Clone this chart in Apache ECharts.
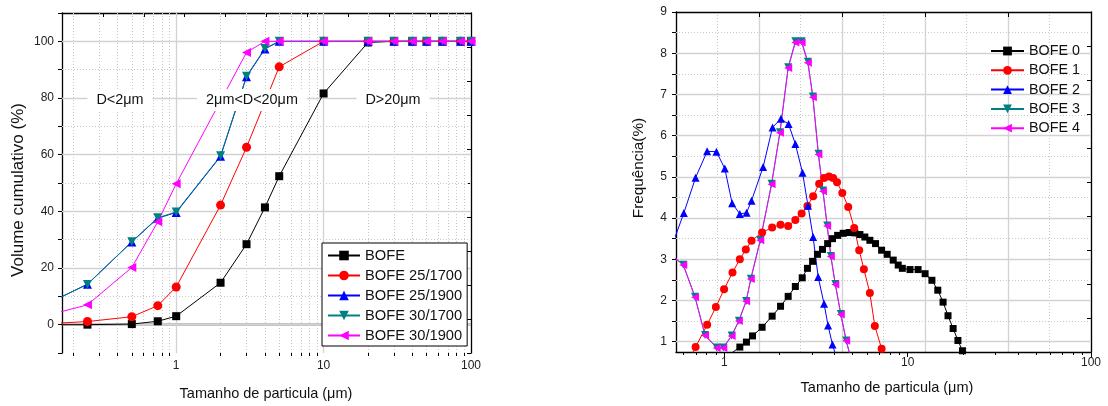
<!DOCTYPE html>
<html><head><meta charset="utf-8">
<script src="https://cdn.jsdelivr.net/npm/echarts@6/dist/echarts.min.js"></script>
<style>html,body{margin:0;padding:0;background:#fff}#c{width:1108px;height:406px}</style>
</head><body><div id="c"></div>
<script>
// ---------- LEFT CHART: cumulative volume ----------
const leftNames = ['BOFE', 'BOFE 25/1700', 'BOFE 25/1900', 'BOFE 30/1700', 'BOFE 30/1900'];
const leftSizes = [0.1, 0.25, 0.5, 0.75, 1, 2, 3, 4, 5, 10, 20, 30, 40, 50, 64, 85, 100];
const cumBOFE      = [0, 0, 0.2, 1.2, 3.0, 14.8, 28.4, 41.4, 52.4, 81.6, 99.6, 100, 100, 100, 100, 100, 100];
const cumBOFE25_17 = [0, 1.1, 2.8, 6.7, 13.3, 42.2, 62.6, null, 91.0, 100, 100, 100, 100, 100, 100, 100, 100];
const cumBOFE25_19 = [4.2, 14.3, 29.2, 37.6, 39.6, 59.4, 87.5, 97.3, 100, 100, 100, 100, 100, 100, 100, 100, 100];
const cumBOFE30_17 = [4.3, 14.2, 29.3, 37.7, 39.8, 59.6, 87.7, 97.5, 100, 100, 100, 100, 100, 100, 100, 100, 100];
const cumBOFE30_19 = [1.6, 7.0, 20.2, 36.3, 49.7, null, 96.1, 100, 100, 100, 100, 100, 100, 100, 100, 100, 100];
const leftYLabels = [0, 20, 40, 60, 80, 100];
const leftYTicks = [-10, 0, 10, 20, 30, 40, 50, 60, 70, 80, 90, 100, 110];
const leftYGridMajor = [0, 20, 40, 60, 80, 100];
const leftYGridMinor = [10, 30, 50, 70, 90];
const leftXLabels = [1, 10, 100];
const leftXMinor = [0.2, 0.3, 0.4, 0.5, 0.6, 0.7, 0.8, 0.9, 2, 3, 4, 5, 6, 7, 8, 9, 20, 30, 40, 50, 60, 70, 80, 90];
const leftXGridMajor = [1, 10];
const zoneLabels = ['D<2μm', '2μm<D<20μm', 'D>20μm'];

// ---------- RIGHT CHART: frequency ----------
const rightNames = ['BOFE 0', 'BOFE 1', 'BOFE 2', 'BOFE 3', 'BOFE 4'];
const sizeBOFE0 = [1.10, 1.215, 1.32, 1.425, 1.607, 1.823, 2.026, 2.23, 2.44, 2.66, 2.84, 3.03, 3.22, 3.43, 3.66, 3.89, 4.15, 4.45, 4.80, 5.15, 5.49, 5.84, 6.22, 6.68, 7.21, 7.73, 8.34, 8.88, 9.35, 10.3, 11.4, 12.45, 13.56, 14.6, 15.6, 16.6, 17.7, 18.8, 19.9];
const freqBOFE0 = [0.73, 0.87, 0.99, 1.14, 1.35, 1.62, 1.86, 2.10, 2.34, 2.55, 2.78, 2.95, 3.12, 3.24, 3.38, 3.50, 3.58, 3.63, 3.65, 3.64, 3.60, 3.54, 3.46, 3.38, 3.22, 3.12, 2.98, 2.86, 2.78, 2.75, 2.75, 2.65, 2.49, 2.25, 1.96, 1.63, 1.32, 1.03, 0.78];
const sizeBOFE1 = [0.60, 0.697, 0.806, 0.899, 0.997, 1.108, 1.215, 1.31, 1.407, 1.607, 1.823, 2.026, 2.23, 2.44, 2.64, 2.84, 3.05, 3.29, 3.50, 3.72, 3.92, 4.12, 4.40, 4.74, 5.11, 5.44, 5.77, 6.22, 6.62, 7.21, 7.75];
const freqBOFE1 = [0.3, 0.87, 1.41, 1.84, 2.27, 2.68, 3.00, 3.24, 3.45, 3.65, 3.77, 3.84, 3.81, 3.95, 4.11, 4.29, 4.53, 4.83, 4.97, 5.01, 4.97, 4.87, 4.61, 4.27, 3.76, 3.22, 2.76, 2.18, 1.38, 0.83, 0.45];
const sizeBOFE2 = [0.53, 0.601, 0.697, 0.806, 0.906, 1.006, 1.103, 1.215, 1.322, 1.407, 1.628, 1.832, 2.034, 2.24, 2.44, 2.67, 2.86, 3.05, 3.25, 3.50, 3.68, 3.89, 4.1];
const freqBOFE2 = [3.45, 4.12, 4.98, 5.62, 5.61, 5.20, 4.36, 4.10, 4.13, 4.42, 5.24, 6.20, 6.41, 6.28, 5.80, 5.10, 4.30, 3.54, 2.57, 1.92, 1.39, 0.93, 0.6];
const sizeBOFE3 = [0.53, 0.597, 0.692, 0.785, 0.908, 0.987, 1.096, 1.20, 1.315, 1.395, 1.571, 1.81, 2.01, 2.23, 2.44, 2.64, 2.855, 3.04, 3.26, 3.45, 3.64, 3.81, 4.03, 4.32, 4.62, 4.9];
const freqBOFE3 = [3.05, 2.87, 2.09, 1.16, 0.86, 0.86, 1.15, 1.51, 1.99, 2.53, 3.47, 4.83, 6.08, 7.66, 8.29, 8.29, 7.79, 6.95, 5.56, 4.67, 3.82, 3.08, 2.40, 1.67, 1.03, 0.6];
const sizeBOFE4 = [0.53, 0.597, 0.692, 0.785, 0.908, 0.987, 1.096, 1.20, 1.315, 1.395, 1.571, 1.81, 2.01, 2.23, 2.44, 2.64, 2.855, 3.04, 3.26, 3.45, 3.64, 3.81, 4.03, 4.32, 4.62, 4.9];
const freqBOFE4 = [3.05, 2.86, 2.08, 1.15, 0.85, 0.85, 1.14, 1.50, 1.98, 2.52, 3.46, 4.82, 6.07, 7.64, 8.26, 8.26, 7.77, 6.93, 5.54, 4.65, 3.81, 3.07, 2.39, 1.66, 1.02, 0.6];
const rightYLabels = [1, 2, 3, 4, 5, 6, 7, 8, 9];
const rightYTicks = [1, 1.5, 2, 2.5, 3, 3.5, 4, 4.5, 5, 5.5, 6, 6.5, 7, 7.5, 8, 8.5, 9];
const rightYGridMajor = [1, 2, 3, 4, 5, 6, 7, 8];
const rightYGridMinor = [1.5, 2.5, 3.5, 4.5, 5.5, 6.5, 7.5, 8.5];
const rightXLabels = [1, 10, 100];
const rightXMinor = [0.6, 0.7, 0.8, 0.9, 2, 3, 4, 5, 6, 7, 8, 9, 20, 30, 40, 50, 60, 70, 80, 90];

const FONT = '"Liberation Sans", Arial, sans-serif';
const COLORS = ['#000000', '#ff0000', '#0000ff', '#008080', '#ff00ff'];
const SYMBOLS = ['rect', 'circle', 'triangle', 'triangle', 'triangle'];
const ROTATES = [0, 0, 0, 180, 90];
const GRID_SOLID = {type: 'solid', color: '#d2d2d2', width: 1.3};
const GRID_DOT = {type: [1, 2], color: '#c8c8c8', width: 1};

function pairs(xs, ys) {
  return xs.map((x, i) => [x, ys[i]]).filter(p => p[1] !== null && p[1] !== undefined);
}

const axisLineStyle = {show: true, lineStyle: {color: '#000', width: 1.3}};
const tickStyle = {color: '#000', width: 1};
const labelStyle = {color: '#222', fontSize: 12, fontFamily: FONT};

const xAxis = [
  // left chart
  {gridIndex: 0, type: 'log', min: 0.168, max: 100, position: 'bottom', axisLine: axisLineStyle,
   axisTick: {show: true, inside: false, length: 5, customValues: leftXLabels, lineStyle: tickStyle},
   axisLabel: Object.assign({customValues: leftXLabels, margin: 7}, labelStyle), splitLine: {show: false}},
  {gridIndex: 0, type: 'log', min: 0.168, max: 100, position: 'bottom', axisLine: {show: false},
   axisTick: {show: true, inside: false, length: 3, customValues: leftXMinor, lineStyle: tickStyle},
   axisLabel: {show: false}, splitLine: {show: false}},
  {gridIndex: 0, type: 'value', min: 0, max: 10, interval: 1, position: 'top', axisLine: axisLineStyle,
   axisTick: {show: true, inside: true, length: 4, lineStyle: tickStyle}, axisLabel: {show: false}, splitLine: {show: false}},
  // right chart
  {gridIndex: 1, type: 'log', min: 0.545, max: 100, position: 'bottom', axisLine: axisLineStyle,
   axisTick: {show: true, inside: false, length: 5, customValues: rightXLabels, lineStyle: tickStyle},
   axisLabel: Object.assign({customValues: rightXLabels, margin: 5}, labelStyle), splitLine: {show: false}},
  {gridIndex: 1, type: 'log', min: 0.545, max: 100, position: 'bottom', axisLine: {show: false},
   axisTick: {show: true, inside: false, length: 3, customValues: rightXMinor, lineStyle: tickStyle},
   axisLabel: {show: false}, splitLine: {show: false}},
  {gridIndex: 1, type: 'value', min: 0, max: 5, interval: 1, position: 'top', axisLine: axisLineStyle,
   axisTick: {show: true, inside: true, length: 5, lineStyle: tickStyle}, axisLabel: {show: false},
   splitLine: {show: true, lineStyle: GRID_SOLID},
   minorTick: {show: false, splitNumber: 2},
   minorSplitLine: {show: true, lineStyle: GRID_DOT}}
];

const yAxis = [
  {gridIndex: 0, type: 'value', min: -10, max: 110, position: 'left', axisLine: axisLineStyle,
   axisTick: {show: true, inside: false, length: 4, customValues: leftYTicks, lineStyle: tickStyle},
   axisLabel: Object.assign({customValues: leftYLabels, margin: 8}, labelStyle), splitLine: {show: false}},
  {gridIndex: 0, type: 'value', min: 0, max: 10, interval: 1, position: 'right', axisLine: axisLineStyle,
   axisTick: {show: true, inside: true, length: 4, lineStyle: tickStyle}, axisLabel: {show: false}, splitLine: {show: false}},
  {gridIndex: 1, type: 'value', min: 0.75, max: 9, position: 'left', axisLine: axisLineStyle,
   axisTick: {show: true, inside: false, length: 4, customValues: rightYTicks, lineStyle: tickStyle},
   axisLabel: Object.assign({customValues: rightYLabels, margin: 9}, labelStyle), splitLine: {show: false}},
  {gridIndex: 1, type: 'value', min: 0, max: 10, interval: 1, position: 'right', axisLine: axisLineStyle,
   axisTick: {show: true, inside: true, length: 4, lineStyle: tickStyle}, axisLabel: {show: false}, splitLine: {show: false}}
];

function gridLines(xMajor, xMinor, yMajor, yMinor) {
  const d = [];
  xMinor.forEach(v => d.push({xAxis: v, lineStyle: GRID_DOT}));
  yMinor.forEach(v => d.push({yAxis: v, lineStyle: GRID_DOT}));
  xMajor.forEach(v => d.push({xAxis: v, lineStyle: GRID_SOLID}));
  yMajor.forEach(v => d.push({yAxis: v, lineStyle: GRID_SOLID}));
  return d;
}

const series = [
  {type: 'line', name: '__gridL', xAxisIndex: 0, yAxisIndex: 0, data: [], z: 1, silent: true,
   markLine: {z: 1, silent: true, symbol: ['none', 'none'], label: {show: false}, animation: false,
     data: gridLines(leftXGridMajor, leftXMinor, leftYGridMajor, leftYGridMinor)}},
  {type: 'line', name: '__gridR', xAxisIndex: 3, yAxisIndex: 2, data: [], z: 1, silent: true,
   markLine: {z: 1, silent: true, symbol: ['none', 'none'], label: {show: false}, animation: false,
     data: gridLines([], [], rightYGridMajor, rightYGridMinor)}}
];

const leftData = [cumBOFE, cumBOFE25_17, cumBOFE25_19, cumBOFE30_17, cumBOFE30_19];
const leftSymSize = [8, 9, 9, 9, 9];
leftData.forEach((ys, i) => {
  series.push({
    type: 'line', name: leftNames[i], xAxisIndex: 0, yAxisIndex: 0, z: 3,
    data: pairs(leftSizes, ys), symbol: SYMBOLS[i], symbolRotate: ROTATES[i], symbolSize: leftSymSize[i],
    showAllSymbol: true, clip: true,
    lineStyle: {color: COLORS[i], width: 1}, itemStyle: {color: COLORS[i], borderWidth: 0}
  });
});

const rightSizes = [sizeBOFE0, sizeBOFE1, sizeBOFE2, sizeBOFE3, sizeBOFE4];
const rightFreqs = [freqBOFE0, freqBOFE1, freqBOFE2, freqBOFE3, freqBOFE4];
const rightSymSize = [7, 8, 8, 8, 8];
rightFreqs.forEach((ys, i) => {
  series.push({
    type: 'line', name: rightNames[i], xAxisIndex: 3, yAxisIndex: 2, z: 3,
    data: pairs(rightSizes[i], ys), symbol: SYMBOLS[i], symbolRotate: ROTATES[i], symbolSize: rightSymSize[i],
    showAllSymbol: true, clip: true,
    lineStyle: {color: COLORS[i], width: 1}, itemStyle: {color: COLORS[i], borderWidth: 0}
  });
});

function txt(text, x, y, size, opts) {
  return Object.assign({
    type: 'text', x: x, y: y, z: 100, silent: true,
    style: {text: text, font: size + 'px ' + FONT, fill: '#111', align: 'center', verticalAlign: 'middle'}
  }, opts || {});
}
function boxTxt(text, x, y) {
  const t = txt(text, x, y, 14.4);
  t.style.backgroundColor = '#fff';
  t.style.padding = [4, 9, 4, 9];
  return t;
}

const graphic = [
  txt('Volume cumulativo (%)', 18, 190, 17, {rotation: Math.PI / 2}),
  txt('Tamanho de particula (μm)', 266, 394, 14.5),
  txt('Frequência(%)', 639, 168, 15.3, {rotation: Math.PI / 2}),
  txt('Tamanho de particula (μm)', 887, 388, 14.5),
  boxTxt(zoneLabels[0], 120, 100),
  boxTxt(zoneLabels[1], 252, 100),
  boxTxt(zoneLabels[2], 393, 100)
];

const option = {
  animation: false,
  backgroundColor: '#fff',
  textStyle: {fontFamily: FONT},
  grid: [
    {left: 62, top: 13, width: 409, height: 340},
    {left: 676, top: 12, width: 415, height: 340}
  ],
  xAxis: xAxis,
  yAxis: yAxis,
  legend: [
    {data: leftNames, orient: 'vertical', left: 322, top: 243, itemWidth: 32, itemHeight: 12, itemGap: 5,
     padding: [5, 5, 3, 5], borderColor: '#000', borderWidth: 1, backgroundColor: '#fff', selectedMode: false,
     textStyle: {fontSize: 14.7, color: '#111', fontFamily: FONT}},
    {data: rightNames, orient: 'vertical', left: 990, top: 44, itemWidth: 33, itemHeight: 11, itemGap: 5.3,
     padding: 0, selectedMode: false, textStyle: {fontSize: 14.3, color: '#111', fontFamily: FONT}}
  ],
  graphic: graphic,
  series: series
};

const chart = echarts.init(document.getElementById('c'), null, {renderer: 'canvas'});
chart.setOption(option);
</script>
</body></html>
